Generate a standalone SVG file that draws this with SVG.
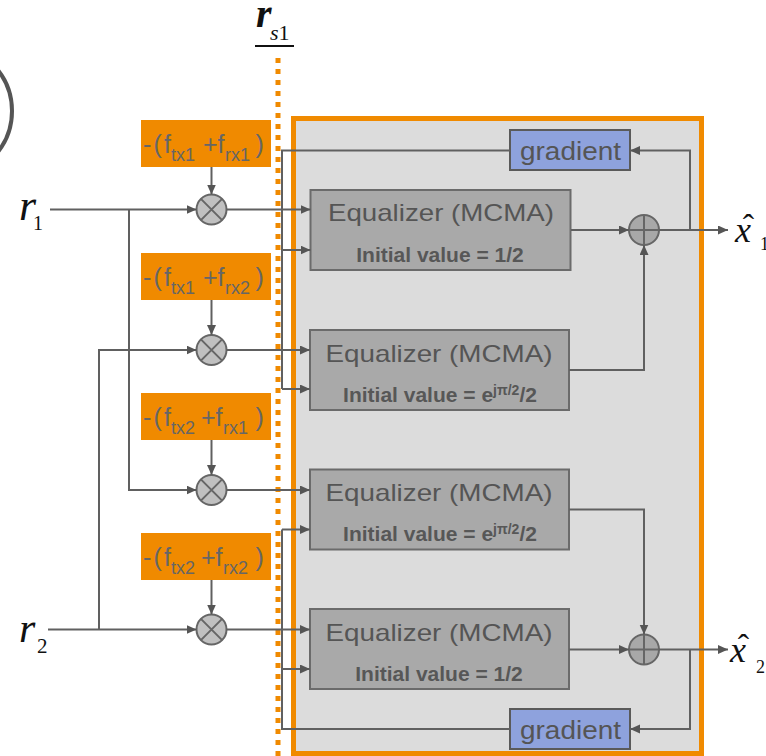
<svg xmlns="http://www.w3.org/2000/svg" width="766" height="756" viewBox="0 0 766 756">
  <style>
    .wire { fill: none; stroke: #606060; stroke-width: 2; }
    .arr { marker-end: url(#head); }
    .offset rect { fill: #F08A00; }
    .offset text { font-family: "Liberation Sans", Arial, sans-serif; fill: #666; font-size: 25px; }
    .offset .sub { font-size: 18px; }
    .eq rect { fill: #A9A9A9; stroke: #6B6B6B; stroke-width: 2; }
    .eq .title { font-family: "Liberation Sans", Arial, sans-serif; font-size: 24px; fill: #555; text-anchor: middle; }
    .eq .init { font-family: "Liberation Sans", Arial, sans-serif; font-size: 21px; font-weight: bold; fill: #575757; text-anchor: middle; }
    .eq .sup { font-size: 14px; }
    .grad rect { fill: #8EA2DD; stroke: #5A5A5A; stroke-width: 2; }
    .grad text { font-family: "Liberation Sans", Arial, sans-serif; font-size: 25px; fill: #555; text-anchor: middle; }
    .mix circle { fill: #C0C0C0; stroke: #666; stroke-width: 2; }
    .sum circle { fill: #A8A8A8; stroke: #666; stroke-width: 2; }
    .mix path, .sum path { stroke: #666; stroke-width: 2; fill: none; }
    .math { font-family: "Liberation Serif", "Times New Roman", serif; fill: #111; }
  </style>
  <defs>
    <marker id="head" markerUnits="userSpaceOnUse" markerWidth="11" markerHeight="10" refX="10" refY="4.5" orient="auto">
      <path d="M0,0 L10,4.5 L0,9 z" fill="#555"/>
    </marker>
  </defs>

  <!-- partial ring at upper left -->
  <circle cx="-54" cy="111" r="66" fill="none" stroke="#555" stroke-width="4"/>

  <!-- split line r_s1 -->
  <g id="rs1-label">
    <text class="math" x="256" y="27" font-size="40" font-style="italic" font-weight="bold">r</text>
    <text class="math" x="270" y="39.5" font-size="22"><tspan font-style="italic">s</tspan>1</text>
    <line x1="255" y1="46" x2="294" y2="46" stroke="#111" stroke-width="2"/>
  </g>
  <line id="split" x1="278" y1="58" x2="278" y2="756" stroke="#F08A00" stroke-width="5" stroke-dasharray="5 6"/>

  <!-- receiver block -->
  <rect id="receiver" x="293.5" y="118.5" width="408" height="635" fill="#DCDCDC" stroke="#F08A00" stroke-width="5"/>

  <!-- inputs -->
  <g id="in-r1">
    <text class="math" x="19" y="220" font-size="44" font-style="italic">r</text>
    <text class="math" x="33" y="230" font-size="20">1</text>
  </g>
  <g id="in-r2">
    <text class="math" x="19" y="642" font-size="42" font-style="italic">r</text>
    <text class="math" x="37" y="653" font-size="21">2</text>
  </g>

  <!-- frequency offset terms -->
  <g id="off1" class="offset">
    <rect x="141" y="120" width="130" height="47"/>
    <text x="143 153.5 164" y="152.5">-(f</text>
    <text class="sub" x="171" y="161">tx1</text>
    <text x="203" y="152.5">+</text>
    <text x="217.5" y="152.5">f</text>
    <text class="sub" x="225" y="161">rx1</text>
    <text x="255.5" y="152.5">)</text>
  </g>
  <g id="off2" class="offset">
    <rect x="141" y="253" width="130" height="47"/>
    <text x="143 153.5 164" y="285.5">-(f</text>
    <text class="sub" x="171" y="294">tx1</text>
    <text x="203" y="285.5">+</text>
    <text x="217.5" y="285.5">f</text>
    <text class="sub" x="225" y="294">rx2</text>
    <text x="255.5" y="285.5">)</text>
  </g>
  <g id="off3" class="offset">
    <rect x="141" y="393" width="130" height="47"/>
    <text x="143 153.5 164" y="425.5">-(f</text>
    <text class="sub" x="171" y="434">tx2</text>
    <text x="201" y="425.5">+</text>
    <text x="215.5" y="425.5">f</text>
    <text class="sub" x="223" y="434">rx1</text>
    <text x="255.5" y="425.5">)</text>
  </g>
  <g id="off4" class="offset">
    <rect x="141" y="533" width="130" height="47"/>
    <text x="143 153.5 164" y="565.5">-(f</text>
    <text class="sub" x="171" y="574">tx2</text>
    <text x="201" y="565.5">+</text>
    <text x="215.5" y="565.5">f</text>
    <text class="sub" x="223" y="574">rx2</text>
    <text x="255.5" y="565.5">)</text>
  </g>

  <!-- mixers -->
  <g id="mix1" class="mix"><circle cx="211.5" cy="209.5" r="15"/><path d="M200.9,198.9 L222.1,220.1 M222.1,198.9 L200.9,220.1"/></g>
  <g id="mix2" class="mix"><circle cx="211.5" cy="350" r="15"/><path d="M200.9,339.4 L222.1,360.6 M222.1,339.4 L200.9,360.6"/></g>
  <g id="mix3" class="mix"><circle cx="211.5" cy="490" r="15"/><path d="M200.9,479.4 L222.1,500.6 M222.1,479.4 L200.9,500.6"/></g>
  <g id="mix4" class="mix"><circle cx="211.5" cy="629.5" r="15"/><path d="M200.9,618.9 L222.1,640.1 M222.1,618.9 L200.9,640.1"/></g>

  <!-- equalizers -->
  <g id="eq1" class="eq">
    <rect x="310.5" y="190" width="260" height="80"/>
    <text class="title" x="441" y="221" textLength="226" lengthAdjust="spacingAndGlyphs">Equalizer (MCMA)</text>
    <text class="init" x="440" y="262">Initial value = 1/2</text>
  </g>
  <g id="eq2" class="eq">
    <rect x="310" y="330" width="259" height="80"/>
    <text class="title" x="439" y="361.5" textLength="227" lengthAdjust="spacingAndGlyphs">Equalizer (MCMA)</text>
    <text class="init" x="440" y="401.5">Initial value = e<tspan class="sup" dy="-7">jπ/2</tspan><tspan dy="7">/2</tspan></text>
  </g>
  <g id="eq3" class="eq">
    <rect x="310" y="469.5" width="259" height="80"/>
    <text class="title" x="439" y="501" textLength="227" lengthAdjust="spacingAndGlyphs">Equalizer (MCMA)</text>
    <text class="init" x="440" y="541">Initial value = e<tspan class="sup" dy="-7">jπ/2</tspan><tspan dy="7">/2</tspan></text>
  </g>
  <g id="eq4" class="eq">
    <rect x="310" y="609" width="259" height="80"/>
    <text class="title" x="439" y="640.5" textLength="227" lengthAdjust="spacingAndGlyphs">Equalizer (MCMA)</text>
    <text class="init" x="439" y="681">Initial value = 1/2</text>
  </g>

  <!-- gradient blocks -->
  <g id="grad1" class="grad">
    <rect x="510" y="130" width="120" height="40"/>
    <text x="570.5" y="160" textLength="101" lengthAdjust="spacingAndGlyphs">gradient</text>
  </g>
  <g id="grad2" class="grad">
    <rect x="510" y="709" width="120" height="40"/>
    <text x="570.5" y="739" textLength="101" lengthAdjust="spacingAndGlyphs">gradient</text>
  </g>

  <!-- adders -->
  <g id="sum1" class="sum"><circle cx="644" cy="230" r="15"/><path d="M629,230 H659 M644,215 V245"/></g>
  <g id="sum2" class="sum"><circle cx="644" cy="649.5" r="15"/><path d="M629,649.5 H659 M644,634.5 V664.5"/></g>

  <!-- outputs -->
  <g id="out1">
    <text class="math" x="735" y="241.5" font-size="36" font-style="italic">x</text>
    <text class="math" x="748.5" y="238" font-size="34" text-anchor="middle">ˆ</text>
    <text class="math" x="760" y="250" font-size="18">1</text>
  </g>
  <g id="out2">
    <text class="math" x="730" y="661.5" font-size="36" font-style="italic">x</text>
    <text class="math" x="743.5" y="658" font-size="34" text-anchor="middle">ˆ</text>
    <text class="math" x="756" y="673" font-size="18">2</text>
  </g>

  <!-- connectors -->
  <g id="connectors" class="wire">
    <path class="arr" d="M50,209.5 H196.5"/>
    <path class="arr" d="M129,209.5 V490 H196.5"/>
    <path class="arr" d="M48,629.5 H196.5"/>
    <path class="arr" d="M99,629.5 V350 H196.5"/>

    <path class="arr" d="M211.5,167 V194.5"/>
    <path class="arr" d="M211.5,300 V335"/>
    <path class="arr" d="M211.5,440 V475"/>
    <path class="arr" d="M211.5,580 V614.5"/>

    <path class="arr" d="M226.5,209.5 H310.5"/>
    <path class="arr" d="M226.5,350 H310"/>
    <path class="arr" d="M226.5,490 H310"/>
    <path class="arr" d="M226.5,629.5 H310"/>

    <path d="M510,150.5 H282 V389"/>
    <path class="arr" d="M282,250 H310.5"/>
    <path class="arr" d="M282,389 H310"/>
    <path d="M510,729 H282 V529.5"/>
    <path class="arr" d="M282,529.5 H310"/>
    <path class="arr" d="M282,669 H310"/>

    <path class="arr" d="M571,230 H629"/>
    <path class="arr" d="M569,370 H644 V245"/>
    <path class="arr" d="M659,230 H728"/>
    <path class="arr" d="M690,230 V150.5 H630"/>

    <path class="arr" d="M569,509.5 H644 V634.5"/>
    <path class="arr" d="M569,649.5 H629"/>
    <path class="arr" d="M659,649.5 H728"/>
    <path class="arr" d="M690,649.5 V729 H630"/>
  </g>
</svg>
